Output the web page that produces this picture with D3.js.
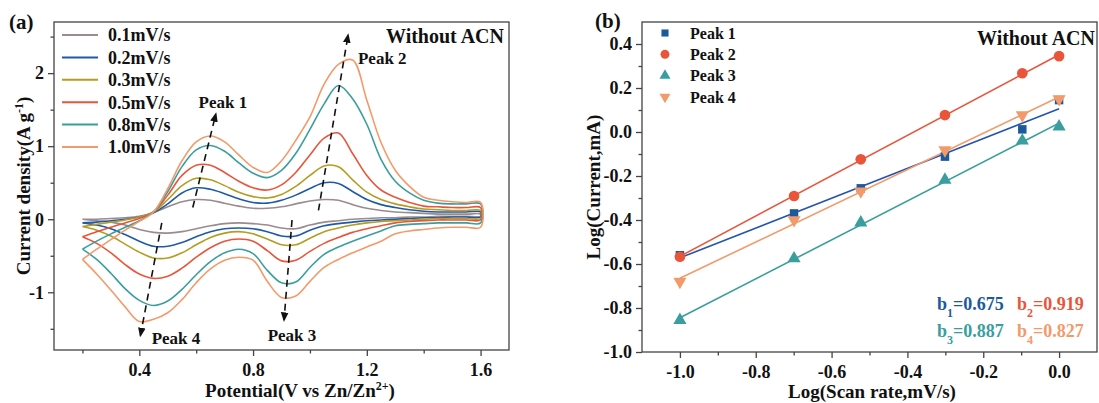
<!DOCTYPE html>
<html>
<head>
<meta charset="UTF-8">
<script src="https://d3js.org/d3.v7.min.js"></script>
<style>
 body { margin: 0; background: #fff; }
 svg text { font-family: "Liberation Serif", "Times New Roman", serif; font-weight: bold; fill: #111; }
</style>
</head>
<body>
<svg id="chart" width="1099" height="403"></svg>
<script>
 // ---------- panel (a): CV curves, current density (A/g) vs potential (V)
 const potentials = [0.2, 0.25, 0.3, 0.35, 0.4, 0.45, 0.5, 0.55, 0.6, 0.65, 0.7, 0.75, 0.8, 0.85,
                     0.9, 0.95, 1.0, 1.05, 1.1, 1.15, 1.2, 1.25, 1.3, 1.35, 1.4, 1.45, 1.5, 1.55, 1.6];
 const rateLabels = ["0.1mV/s", "0.2mV/s", "0.3mV/s", "0.5mV/s", "0.8mV/s", "1.0mV/s"];
 const rateColors = ["#9b8a8f", "#1f5aa6", "#b39d22", "#e8553a", "#3a9e9e", "#f29a6a"];

 // anodic sweep (upper branch), same order as potentials
 const up01 = [0.0, 0.0, 0.01, 0.02, 0.04, 0.09, 0.17, 0.24, 0.27, 0.26, 0.22, 0.18, 0.15, 0.15, 0.17, 0.21, 0.25, 0.27, 0.26, 0.20, 0.15, 0.12, 0.10, 0.09, 0.08, 0.07, 0.07, 0.07, 0.07];
 const up02 = [-0.05, -0.04, -0.02, 0.0, 0.03, 0.09, 0.21, 0.36, 0.43, 0.41, 0.35, 0.28, 0.23, 0.22, 0.26, 0.33, 0.42, 0.50, 0.49, 0.38, 0.27, 0.20, 0.16, 0.13, 0.11, 0.10, 0.10, 0.10, 0.10];
 const up03 = [-0.10, -0.07, -0.04, -0.01, 0.03, 0.10, 0.27, 0.46, 0.56, 0.54, 0.46, 0.37, 0.31, 0.29, 0.34, 0.45, 0.60, 0.73, 0.72, 0.54, 0.37, 0.27, 0.21, 0.17, 0.14, 0.13, 0.12, 0.12, 0.12];
 const up05 = [-0.24, -0.17, -0.11, -0.05, 0.01, 0.10, 0.33, 0.60, 0.74, 0.74, 0.64, 0.52, 0.43, 0.40, 0.47, 0.64, 0.88, 1.11, 1.18, 0.90, 0.60, 0.40, 0.30, 0.23, 0.18, 0.17, 0.16, 0.16, 0.16];
 const up08 = [-0.41, -0.30, -0.20, -0.11, -0.02, 0.10, 0.38, 0.72, 0.95, 1.01, 0.93, 0.77, 0.63, 0.57, 0.67, 0.90, 1.23, 1.58, 1.83, 1.65, 1.30, 0.82, 0.52, 0.36, 0.26, 0.22, 0.21, 0.21, 0.21];
 const up10 = [-0.55, -0.41, -0.28, -0.15, -0.03, 0.10, 0.42, 0.80, 1.06, 1.14, 1.06, 0.88, 0.71, 0.64, 0.80, 1.08, 1.40, 1.85, 2.12, 2.18, 1.63, 1.05, 0.67, 0.45, 0.30, 0.26, 0.24, 0.23, 0.23];

 // cathodic sweep (lower branch), also listed in order of potentials
 const down01 = [0.0, -0.02, -0.04, -0.08, -0.14, -0.18, -0.19, -0.17, -0.13, -0.09, -0.06, -0.05, -0.06, -0.08, -0.12, -0.13, -0.08, -0.04, -0.02, 0.0, 0.01, 0.02, 0.02, 0.03, 0.03, 0.04, 0.04, 0.04, 0.04];
 const down02 = [-0.05, -0.08, -0.13, -0.21, -0.30, -0.37, -0.37, -0.32, -0.24, -0.17, -0.13, -0.12, -0.13, -0.17, -0.23, -0.23, -0.15, -0.09, -0.06, -0.04, -0.02, -0.01, 0.0, 0.01, 0.02, 0.02, 0.03, 0.03, 0.03];
 const down03 = [-0.10, -0.15, -0.23, -0.34, -0.45, -0.53, -0.53, -0.46, -0.35, -0.25, -0.19, -0.17, -0.20, -0.27, -0.35, -0.35, -0.26, -0.17, -0.12, -0.08, -0.05, -0.03, -0.02, -0.01, 0.0, 0.01, 0.01, 0.01, 0.01];
 const down05 = [-0.24, -0.33, -0.46, -0.62, -0.75, -0.81, -0.78, -0.67, -0.52, -0.39, -0.30, -0.27, -0.30, -0.43, -0.57, -0.56, -0.44, -0.33, -0.25, -0.18, -0.13, -0.09, -0.05, -0.03, -0.02, -0.01, -0.01, -0.01, -0.01];
 const down08 = [-0.41, -0.55, -0.74, -0.95, -1.11, -1.18, -1.12, -0.96, -0.76, -0.58, -0.46, -0.41, -0.47, -0.70, -0.87, -0.86, -0.66, -0.48, -0.38, -0.30, -0.23, -0.16, -0.09, -0.07, -0.06, -0.05, -0.05, -0.05, -0.05];
 const down10 = [-0.55, -0.75, -0.97, -1.20, -1.40, -1.37, -1.28, -1.10, -0.87, -0.68, -0.56, -0.52, -0.56, -0.85, -1.07, -1.05, -0.85, -0.66, -0.55, -0.46, -0.38, -0.30, -0.20, -0.16, -0.14, -0.12, -0.11, -0.11, -0.11];

 const anodic = [up01, up02, up03, up05, up08, up10];
 const cathodic = [down01, down02, down03, down05, down08, down10];

 // dashed peak-shift arrows, [from, to] in (V, A/g), and their labels
 const peakArrows = [
     {name: "Peak 1", from: [0.588, 0.16], to: [0.669, 1.44], label: [0.694, 1.60], anchor: "middle"},
     {name: "Peak 2", from: [1.030, 0.12], to: [1.134, 2.52], label: [1.169, 2.21], anchor: "start"},
     {name: "Peak 3", from: [0.937, -0.01], to: [0.909, -1.38], label: [0.937, -1.59], anchor: "middle"},
     {name: "Peak 4", from: [0.479, -0.05], to: [0.404, -1.59], label: [0.529, -1.62], anchor: "middle"}
 ];

 // ---------- panel (b): log(peak current) vs log(scan rate)
 const logRate = [-1, -0.699, -0.523, -0.301, -0.097, 0];
 const peak1 = [-0.56, -0.37, -0.256, -0.112, 0.012, 0.145];
 const peak2 = [-0.567, -0.291, -0.124, 0.077, 0.267, 0.345];
 const peak3 = [-0.855, -0.575, -0.412, -0.218, -0.04, 0.024];
 const peak4 = [-0.68, -0.40, -0.269, -0.082, 0.077, 0.150];
 const peakNames = ["Peak 1", "Peak 2", "Peak 3", "Peak 4"];
 const peakColors = ["#1d5a9b", "#e8553a", "#3a9e9e", "#f29a6a"];
 const fitColors = ["#2354ae", "#e8553a", "#3a9e9e", "#f29a6a"];
 const bValues = ["0.675", "0.919", "0.887", "0.827"];

 const svg = d3.select("#chart");
 const axisColor = "#444";

 function drawFrame(g, x, y, xMajor, xMinor, yMajor, yMinor, xFmt, yFmt) {
     const [x0, x1] = x.range();
     const [y1, y0] = y.range();
     g.append("rect")
      .attr("x", x0).attr("y", y0)
      .attr("width", x1 - x0).attr("height", y1 - y0)
      .attr("fill", "none").attr("stroke", axisColor).attr("stroke-width", 1.3);

     let xa = g.append("g").attr("transform", `translate(0,${y1})`)
               .call(d3.axisBottom(x).tickValues(xMajor).tickSize(6).tickFormat(xFmt));
     g.append("g").attr("transform", `translate(0,${y1})`)
      .call(d3.axisBottom(x).tickValues(xMinor).tickSize(3.5).tickFormat(""));
     let ya = g.append("g").attr("transform", `translate(${x0},0)`)
               .call(d3.axisLeft(y).tickValues(yMajor).tickSize(6).tickFormat(yFmt));
     g.append("g").attr("transform", `translate(${x0},0)`)
      .call(d3.axisLeft(y).tickValues(yMinor).tickSize(3.5).tickFormat(""));

     g.selectAll(".domain").remove();
     g.selectAll(".tick line").attr("stroke", axisColor).attr("stroke-width", 1.3);
     g.selectAll(".tick text").attr("fill", "#111").attr("font-size", 18)
      .attr("font-family", "Liberation Serif, serif").attr("font-weight", "bold")
      .text(function() { return d3.select(this).text().replace("−", "-"); });
     xa.selectAll(".tick text").attr("dy", "1.0em").attr("y", 8);
     ya.selectAll(".tick text").attr("x", -10);
 }

 // ---------- panel (a)
 const xA = d3.scaleLinear().domain([0.1, 1.7]).range([54, 509]);
 const yA = d3.scaleLinear().domain([-1.79, 2.70]).range([350, 22]);
 const gA = svg.append("g");

 drawFrame(gA, xA, yA,
           [0.4, 0.8, 1.2, 1.6], [0.2, 0.6, 1.0, 1.4],
           [-1, 0, 1, 2], [-1.5, -0.5, 0.5, 1.5, 2.5],
           d3.format(".1f"), d3.format("d"));

 const cvLine = d3.line()
     .x(d => xA(d[0]))
     .y(d => yA(d[1]))
     .curve(d3.curveCatmullRom.alpha(0.5));

 anodic.forEach(function(up, i) {
     let pts = potentials.map((v, k) => [v, up[k]]);
     let back = potentials.map((v, k) => [v, cathodic[i][k]]).reverse();
     gA.append("path")
       .attr("d", cvLine(pts.concat(back)))
       .attr("fill", "none")
       .attr("stroke", rateColors[i])
       .attr("stroke-width", 1.6);
 });

 // arrow marker
 svg.append("defs").append("marker")
    .attr("id", "arrow")
    .attr("viewBox", "0 0 10 10")
    .attr("refX", 8).attr("refY", 5)
    .attr("markerWidth", 6).attr("markerHeight", 7)
    .attr("orient", "auto")
    .append("path").attr("d", "M0,1 L10,5 L0,9 Z").attr("fill", "#111");

 peakArrows.forEach(function(p) {
     gA.append("line")
       .attr("x1", xA(p.from[0])).attr("y1", yA(p.from[1]))
       .attr("x2", xA(p.to[0])).attr("y2", yA(p.to[1]))
       .attr("stroke", "#111").attr("stroke-width", 1.6)
       .attr("stroke-dasharray", "7,5")
       .attr("marker-end", "url(#arrow)");
     gA.append("text")
       .attr("x", xA(p.label[0])).attr("y", yA(p.label[1]))
       .attr("dy", "0.35em")
       .attr("text-anchor", p.anchor)
       .attr("font-size", 17)
       .text(p.name);
 });

 // legend (a)
 rateLabels.forEach(function(lab, i) {
     let yy = 35 + i * 22.4;
     gA.append("line").attr("x1", 62).attr("x2", 98).attr("y1", yy).attr("y2", yy)
       .attr("stroke", rateColors[i]).attr("stroke-width", 2);
     gA.append("text").attr("x", 108).attr("y", yy).attr("dy", "0.35em")
       .attr("font-size", 18).text(lab);
 });

 gA.append("text").attr("x", 504).attr("y", 43).attr("text-anchor", "end")
   .attr("font-size", 20).text("Without ACN");
 gA.append("text").attr("x", 9).attr("y", 28.5).attr("font-size", 21).text("(a)");

 gA.append("text")
   .attr("transform", "translate(23,186) rotate(-90)")
   .attr("text-anchor", "middle").attr("dy", "0.35em")
   .attr("font-size", 19)
   .call(t => {
       t.append("tspan").text("Current density(A g");
       t.append("tspan").attr("baseline-shift", "super").attr("font-size", 12).text("-1");
       t.append("tspan").text(")");
   });
 gA.append("text")
   .attr("x", 300).attr("y", 390).attr("dy", "0.35em")
   .attr("text-anchor", "middle").attr("font-size", 19)
   .call(t => {
       t.append("tspan").text("Potential(V vs Zn/Zn");
       t.append("tspan").attr("baseline-shift", "super").attr("font-size", 12).text("2+");
       t.append("tspan").text(")");
   });

 // ---------- panel (b)
 const xB = d3.scaleLinear().domain([-1.1, 0.1]).range([642, 1097]);
 const yB = d3.scaleLinear().domain([-1.0, 0.5]).range([352, 22]);
 const gB = svg.append("g");

 drawFrame(gB, xB, yB,
           [-1.0, -0.8, -0.6, -0.4, -0.2, 0.0], [-0.9, -0.7, -0.5, -0.3, -0.1],
           [-1.0, -0.8, -0.6, -0.4, -0.2, 0.0, 0.2, 0.4], [-0.9, -0.7, -0.5, -0.3, -0.1, 0.1, 0.3],
           d3.format(".1f"), d3.format(".1f"));

 const peakSeries = [peak1, peak2, peak3, peak4];
 const symbols = [d3.symbolSquare, d3.symbolCircle, d3.symbolTriangle, d3.symbolTriangle];
 const symSizes = [72, 90, 75, 75];
 const symRot = [0, 0, 0, 180];

 function linFit(xs, ys) {
     let mx = d3.mean(xs), my = d3.mean(ys);
     let sxy = d3.sum(xs, (v, k) => (v - mx) * (ys[k] - my));
     let sxx = d3.sum(xs, v => (v - mx) * (v - mx));
     let m = sxy / sxx;
     return [m, my - m * mx];
 }

 peakSeries.forEach(function(ys, i) {
     let [m, c] = linFit(logRate, ys);
     let ends = [logRate[0], logRate[logRate.length - 1]];
     gB.append("line")
       .attr("x1", xB(ends[0])).attr("y1", yB(m * ends[0] + c))
       .attr("x2", xB(ends[1])).attr("y2", yB(m * ends[1] + c))
       .attr("stroke", fitColors[i]).attr("stroke-width", 1.6);
 });
 peakSeries.forEach(function(ys, i) {
     gB.selectAll(null)
       .data(logRate.map((v, k) => [v, ys[k]]))
       .enter()
       .append("path")
       .attr("d", d3.symbol().type(symbols[i]).size(symSizes[i]))
       .attr("transform", d => `translate(${xB(d[0])},${yB(d[1])}) rotate(${symRot[i]})`)
       .attr("fill", peakColors[i]);
 });

 // legend (b)
 peakNames.forEach(function(name, i) {
     let yy = 33 + i * 21.3;
     gB.append("path")
       .attr("d", d3.symbol().type(symbols[i]).size(symSizes[i] * 0.7))
       .attr("transform", `translate(665,${yy}) rotate(${symRot[i]})`)
       .attr("fill", peakColors[i]);
     gB.append("text").attr("x", 690).attr("y", yy).attr("dy", "0.35em")
       .attr("font-size", 16).text(name);
 });

 // slope labels
 bValues.forEach(function(b, i) {
     let tx = 937 + (i % 2) * 80;
     let ty = 310 + Math.floor(i / 2) * 27;
     gB.append("text").attr("x", tx).attr("y", ty).attr("font-size", 18)
       .style("fill", peakColors[i])
       .call(t => {
           t.append("tspan").text("b");
           t.append("tspan").attr("baseline-shift", "sub").attr("font-size", 12).text(i + 1);
           t.append("tspan").text("=" + b);
       });
 });

 gB.append("text").attr("x", 1095).attr("y", 45).attr("text-anchor", "end")
   .attr("font-size", 20).text("Without ACN");
 gB.append("text").attr("x", 595).attr("y", 28).attr("font-size", 21).text("(b)");

 gB.append("text")
   .attr("transform", "translate(593,187) rotate(-90)")
   .attr("text-anchor", "middle").attr("dy", "0.35em")
   .attr("font-size", 19).text("Log(Current,mA)");
 gB.append("text")
   .attr("x", 872).attr("y", 391).attr("dy", "0.35em")
   .attr("text-anchor", "middle").attr("font-size", 19)
   .text("Log(Scan rate,mV/s)");
</script>
</body>
</html>
